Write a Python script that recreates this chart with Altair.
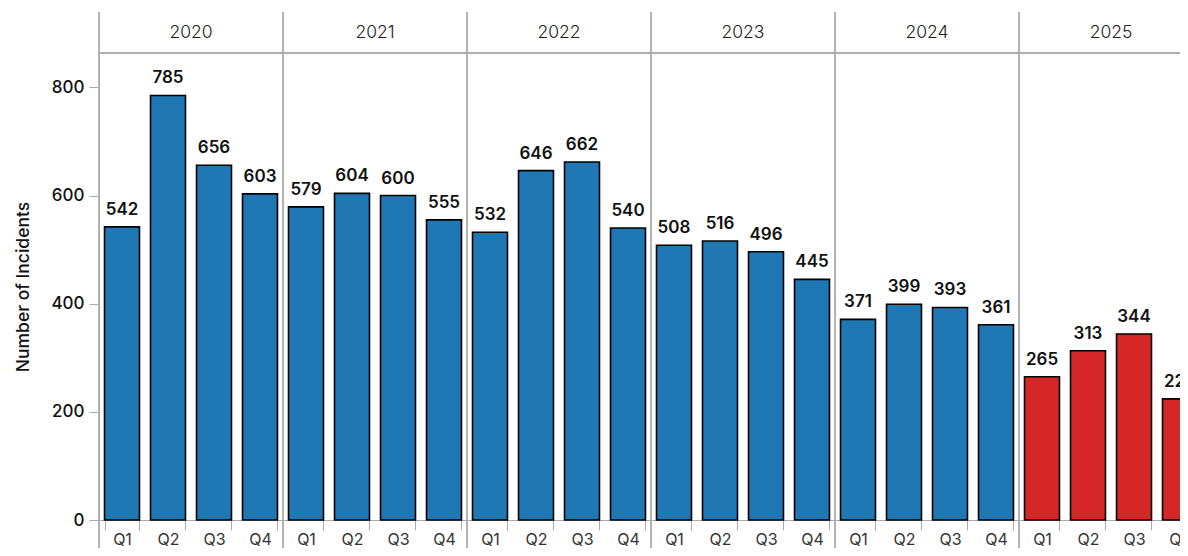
import altair as alt
import pandas as pd

years = ["2020", "2021", "2022", "2023", "2024", "2025"]
quarters = ["Q1", "Q2", "Q3", "Q4"]
incidents = [
    542, 785, 656, 603,
    579, 604, 600, 555,
    532, 646, 662, 540,
    508, 516, 496, 445,
    371, 399, 393, 361,
    265, 313, 344, 224,
]
year_group = ["past", "past", "past", "past", "past", "current"]

rows = []
i = 0
for yi, y in enumerate(years):
    for q in quarters:
        rows.append({"period": f"{y}-{q}", "year": y, "quarter": q,
                     "incidents": incidents[i], "group": year_group[yi]})
        i += 1
df = pd.DataFrame(rows)
periods = list(df["period"])

years_df = pd.DataFrame({
    "year": years,
    "start": [f"{y}-Q1" for y in years],
    "mid": [f"{y}-Q3" for y in years],
})

STEP = 46
PAD_IN = 0.24
FULL_W = STEP * len(periods)   # full band range, partly beyond the visible area
W = 1081                       # visible plot width
H = 467
GRAY = "#acacac"
FONT = "Inter"

xscale = alt.Scale(domain=periods, range=[0, FULL_W],
                   paddingInner=PAD_IN, paddingOuter=PAD_IN / 2)
yscale = alt.Scale(domain=[0, 863.5], nice=False)

bars = alt.Chart(df).mark_bar(stroke="black", strokeWidth=1.6).encode(
    x=alt.X("period:N", scale=xscale, sort=periods,
            axis=alt.Axis(title=None, labelExpr="split(datum.label, '-')[1]",
                          labelAngle=0, tickBand="extent", tickSize=10,
                          labelPadding=1, labelFontSize=16, labelColor="#333",
                          labelFont=FONT, labelFontWeight=400,
                          domainColor=GRAY, tickColor=GRAY)),
    y=alt.Y("incidents:Q", scale=yscale,
            axis=alt.Axis(title="Number of Incidents", values=[0, 200, 400, 600, 800],
                          grid=False, tickSize=10, labelPadding=5, labelFontSize=17,
                          labelFont=FONT, labelColor="#111", labelFontWeight=500,
                          titleFontSize=17.5, titleFont=FONT, titleFontWeight=500,
                          titleColor="#111", titlePadding=18,
                          domainColor=GRAY, tickColor=GRAY)),
    color=alt.Color("group:N", legend=None,
                    scale=alt.Scale(domain=["past", "current"], range=["#1f77b4", "#d62728"])),
)

labels = alt.Chart(df).mark_text(baseline="bottom", dy=-8, fontSize=17, fontWeight=600,
                                 font=FONT, color="#111").encode(
    x=alt.X("period:N", scale=xscale, sort=periods),
    y=alt.Y("incidents:Q", scale=yscale),
    text="incidents:Q",
)

seps = alt.Chart(years_df).mark_rule(color=GRAY, strokeWidth=1.8,
                                     xOffset=-STEP * PAD_IN / 2).encode(
    x=alt.X("start:N", scale=xscale, sort=periods, bandPosition=0),
    y=alt.value(-41),
    y2=alt.value(H + 45),
)

top_line = alt.Chart(years_df).mark_rule(color=GRAY, strokeWidth=1).encode(
    x=alt.value(0), x2=alt.value(FULL_W), y=alt.value(0)
)

year_text = alt.Chart(years_df).mark_text(fontSize=17.5, font=FONT, color="#222",
                                          fontWeight=300, baseline="middle",
                                          xOffset=-STEP * PAD_IN / 2).encode(
    x=alt.X("mid:N", scale=xscale, sort=periods, bandPosition=0),
    y=alt.value(-20),
    text="year:N",
)

chart = alt.layer(top_line, bars, labels, seps, year_text).properties(
    width=W, height=H,
    autosize=alt.AutoSizeParams(type="none"),
    padding={"left": 91, "top": 45, "right": 0, "bottom": 28},
).configure_view(stroke=None)

chart.save("out.html", embed_options={"renderer": "svg", "actions": False})
